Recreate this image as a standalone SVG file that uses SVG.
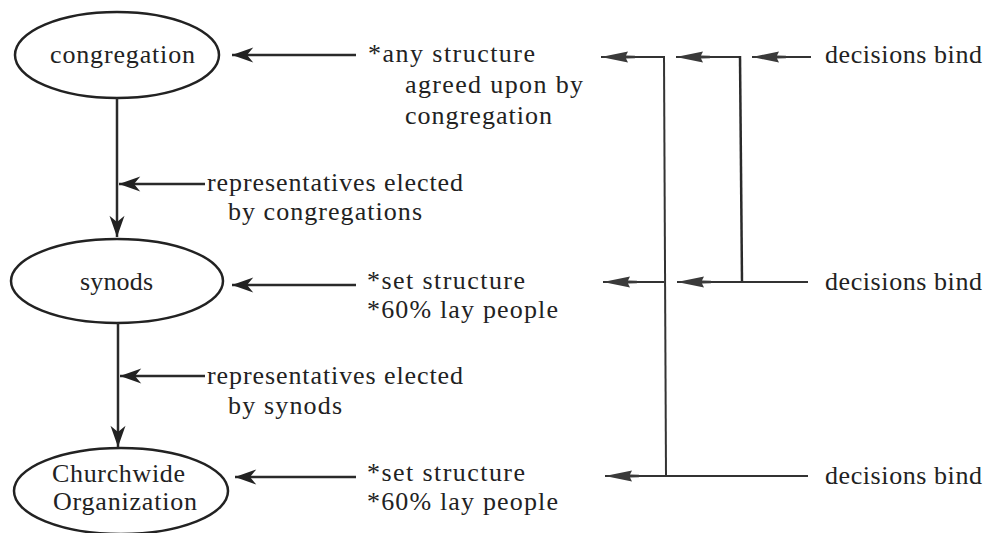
<svg xmlns="http://www.w3.org/2000/svg" width="985" height="533" viewBox="0 0 985 533">
<style>
text{font-family:"Liberation Serif","DejaVu Serif","Noto Serif",Tinos,FreeSerif,Times,serif;font-size:26px;fill:#222}
.node{fill:none;stroke:#222;stroke-width:2.5}
.k{stroke:#2a2a2a;stroke-width:2.5;fill:none}
.g{stroke:#333;stroke-width:2;fill:none}
</style>
<defs>
<marker id="ah" markerUnits="userSpaceOnUse" markerWidth="30" markerHeight="20" viewBox="-20 -8 22 16" refX="0" refY="0" orient="auto">
<path d="M0,0 L-17,-6 L-12,0 L-17,6 Z" fill="#222"/>
</marker>
<marker id="dart" markerUnits="userSpaceOnUse" markerWidth="38" markerHeight="14" viewBox="-36 -7 38 14" refX="0" refY="0" orient="auto">
<path d="M0,0 L-27,-5.5 L-25,-1.5 L-34,-1.2 L-34,1.2 L-25,1.5 L-27,5.5 Z" fill="#3a3a3a"/>
</marker>
</defs>
<rect width="985" height="533" fill="#fff"/>
<g id="congregation">
<ellipse class="node" cx="117" cy="55" rx="102" ry="43"/>
<text x="50" y="63" textLength="145" lengthAdjust="spacing">congregation</text>
</g>
<g id="synods">
<ellipse class="node" cx="117" cy="281" rx="106" ry="42"/>
<text x="80" y="290" textLength="73" lengthAdjust="spacing">synods</text>
</g>
<g id="churchwide">
<ellipse class="node" cx="121" cy="491" rx="107" ry="43"/>
<text x="52" y="482" textLength="133" lengthAdjust="spacing">Churchwide</text>
<text x="53" y="510" textLength="144" lengthAdjust="spacing">Organization</text>
</g>
<g id="note-congregation">
<text x="368" y="62" textLength="167" lengthAdjust="spacing">*any structure</text>
<text x="405" y="93" textLength="178" lengthAdjust="spacing">agreed upon by</text>
<text x="405" y="124" textLength="147" lengthAdjust="spacing">congregation</text>
</g>
<g id="note-synods">
<text x="367" y="289" textLength="158" lengthAdjust="spacing">*set structure</text>
<text x="367" y="318" textLength="191" lengthAdjust="spacing">*60% lay people</text>
</g>
<g id="note-churchwide">
<text x="367" y="481" textLength="158" lengthAdjust="spacing">*set structure</text>
<text x="367" y="510" textLength="191" lengthAdjust="spacing">*60% lay people</text>
</g>
<g id="rep-congregations">
<text x="207" y="191" textLength="256" lengthAdjust="spacing">representatives elected</text>
<text x="228" y="220" textLength="194" lengthAdjust="spacing">by congregations</text>
</g>
<g id="rep-synods">
<text x="207" y="384" textLength="256" lengthAdjust="spacing">representatives elected</text>
<text x="228" y="414" textLength="114" lengthAdjust="spacing">by synods</text>
</g>
<g id="bind-1"><text x="825" y="63" textLength="157" lengthAdjust="spacing">decisions bind</text></g>
<g id="bind-2"><text x="825" y="290" textLength="157" lengthAdjust="spacing">decisions bind</text></g>
<g id="bind-3"><text x="825" y="484" textLength="157" lengthAdjust="spacing">decisions bind</text></g>
<g id="connectors">
<line class="k" x1="117" y1="98" x2="117" y2="237" marker-end="url(#ah)"/>
<line class="k" x1="118" y1="323" x2="118" y2="447" marker-end="url(#ah)"/>
<line class="k" x1="205" y1="184" x2="119" y2="184" marker-end="url(#ah)"/>
<line class="k" x1="205" y1="376" x2="120" y2="376" marker-end="url(#ah)"/>
<line class="k" x1="356" y1="55" x2="232" y2="55" marker-end="url(#ah)"/>
<line class="k" x1="356" y1="285" x2="232" y2="285" marker-end="url(#ah)"/>
<line class="k" x1="356" y1="477" x2="235" y2="477" marker-end="url(#ah)"/>
<line class="g" x1="663" y1="57" x2="601" y2="57" marker-end="url(#dart)"/>
<line class="g" x1="739" y1="57" x2="676" y2="57" marker-end="url(#dart)"/>
<line class="g" x1="811" y1="57" x2="752" y2="57" marker-end="url(#dart)"/>
<line class="g" x1="664" y1="56" x2="666" y2="477"/>
<line class="k" x1="740" y1="56" x2="742" y2="282"/>
<line class="g" x1="664" y1="282" x2="603" y2="282" marker-end="url(#dart)"/>
<line class="g" x1="808" y1="282" x2="677" y2="282" marker-end="url(#dart)"/>
<line class="g" x1="808" y1="476" x2="605" y2="476" marker-end="url(#dart)"/>
</g>
</svg>
